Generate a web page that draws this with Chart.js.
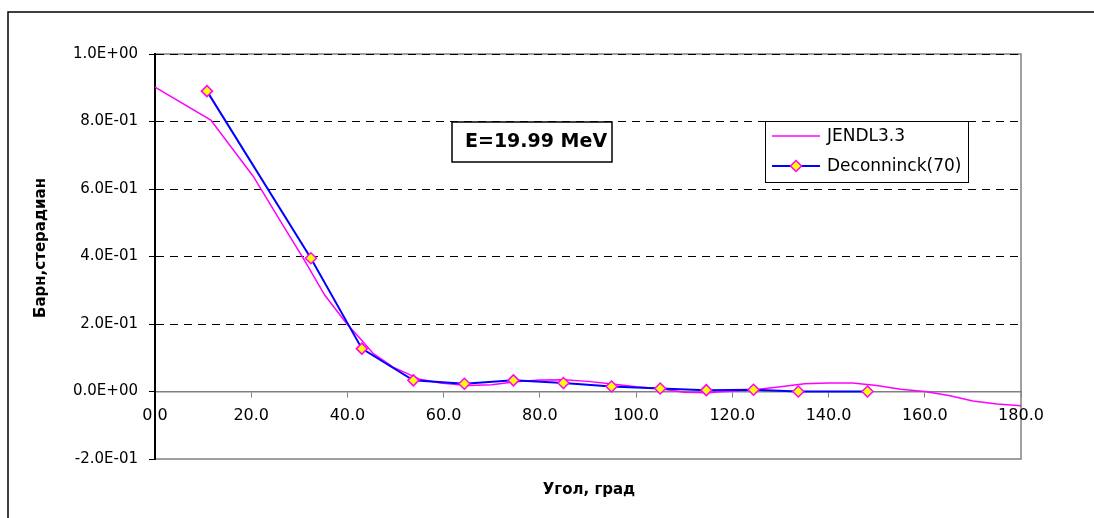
<!DOCTYPE html>
<html>
<head>
<meta charset="utf-8">
<script src="https://cdn.jsdelivr.net/npm/chart.js@4.4.0/dist/chart.umd.min.js"></script>
<style>
  html, body { margin: 0; padding: 0; background: #fff; }
  #wrap { width: 1094px; height: 518px; position: relative; }
</style>
</head>
<body>
<div id="wrap"><canvas id="chart"></canvas></div>
<script>
// JENDL3.3 evaluation (angle in degrees, barn/sr)
const jendlAngle = [0, 11.6, 20.4, 26.7, 30.8, 35.3, 39.9, 43.0, 45.4, 49.5, 55.1, 59.3, 65, 70, 75, 80, 85, 90, 95, 100, 105, 110, 115, 117.5, 120, 125, 130, 135, 140, 145, 150, 155, 160, 165, 170, 175, 180];
const jendlValue = [0.902, 0.804, 0.638, 0.49, 0.395, 0.285, 0.20, 0.151, 0.112, 0.072, 0.036, 0.025, 0.018, 0.020, 0.029, 0.034, 0.035, 0.030, 0.022, 0.014, 0.008, -0.002, -0.004, -0.001, 0.001, 0.006, 0.014, 0.023, 0.025, 0.025, 0.018, 0.007, 0.0, -0.012, -0.028, -0.037, -0.042];

// Deconninck(70) measurement
const decAngle = [10.8, 32.4, 43.0, 53.7, 64.3, 74.5, 84.9, 94.9, 105.0, 114.6, 124.4, 133.7, 148.1];
const decValue = [0.890, 0.395, 0.127, 0.033, 0.023, 0.033, 0.025, 0.015, 0.009, 0.004, 0.005, 0.0, 0.0];

// axes
const xMin = 0, xMax = 180, xStep = 20;
const yMin = -0.2, yMax = 1.0, yStep = 0.2;

const energyLabel = 'E=19.99 MeV';
const xTitle = 'Угол, град';
const yTitle = 'Барн,стерадиан';

function toPoints(xs, ys) {
    return xs.map((x, i) => ({ x: x, y: ys[i] }));
}

// Excel style 0.0E+00
function sci(v) {
    if (Math.abs(v) < 1e-9) return '0.0E+00';
    let e = Math.floor(Math.log10(Math.abs(v)) + 1e-9);
    let m = v / Math.pow(10, e);
    let s = e < 0 ? '-' : '+';
    let ea = Math.abs(e);
    return m.toFixed(1) + 'E' + s + (ea < 10 ? '0' + ea : ea);
}

function diamond(ctx, x, y, r) {
    ctx.beginPath();
    ctx.moveTo(x, y - r);
    ctx.lineTo(x + r, y);
    ctx.lineTo(x, y + r);
    ctx.lineTo(x - r, y);
    ctx.closePath();
    ctx.fill();
    ctx.stroke();
}

const decorPlugin = {
    id: 'decor',
    beforeDraw(chart) {
        const ctx = chart.ctx;
        const a = chart.chartArea;
        ctx.save();
        // outer frame
        ctx.strokeStyle = '#000';
        ctx.lineWidth = 1.5;
        ctx.beginPath();
        ctx.moveTo(8, 518);
        ctx.lineTo(8, 12);
        ctx.lineTo(1094, 12);
        ctx.stroke();
        // plot area frame
        ctx.strokeStyle = '#808080';
        ctx.lineWidth = 1.5;
        ctx.strokeRect(a.left, a.top, a.right - a.left, a.bottom - a.top);
        ctx.restore();
    },
    afterDraw(chart) {
        const ctx = chart.ctx;
        ctx.save();
        ctx.fillStyle = '#000';

        // axis titles
        ctx.font = 'bold 15px "DejaVu Sans"';
        ctx.textAlign = 'center';
        ctx.textBaseline = 'middle';
        ctx.fillText(xTitle, 589, 490);
        ctx.save();
        ctx.translate(41, 248);
        ctx.rotate(-Math.PI / 2);
        ctx.fillText(yTitle, 0, 0);
        ctx.restore();

        // energy box
        ctx.fillStyle = '#fff';
        ctx.fillRect(452, 122, 160, 40);
        ctx.strokeStyle = '#000';
        ctx.lineWidth = 1.5;
        ctx.strokeRect(452, 122, 160, 40);
        ctx.fillStyle = '#000';
        ctx.font = 'bold 19px "DejaVu Sans"';
        ctx.textAlign = 'left';
        ctx.fillText(energyLabel, 465, 142);

        // legend
        ctx.fillStyle = '#fff';
        ctx.fillRect(765, 121, 203, 61);
        ctx.strokeStyle = '#000';
        ctx.lineWidth = 1;
        ctx.strokeRect(765.5, 121.5, 203, 61);
        ctx.font = '17px "DejaVu Sans"';
        chart.data.datasets.forEach((ds, i) => {
            const y = 136 + i * 30;
            ctx.strokeStyle = ds.borderColor;
            ctx.lineWidth = ds.borderWidth;
            ctx.beginPath();
            ctx.moveTo(772, y);
            ctx.lineTo(820, y);
            ctx.stroke();
            if (ds.pointRadius > 0) {
                ctx.fillStyle = ds.pointBackgroundColor;
                ctx.strokeStyle = ds.pointBorderColor;
                ctx.lineWidth = ds.pointBorderWidth;
                diamond(ctx, 796, y, ds.pointRadius);
            }
            ctx.fillStyle = '#000';
            ctx.fillText(ds.label, 827, y + 1);
        });
        ctx.restore();
    }
};

new Chart(document.getElementById('chart'), {
    type: 'line',
    data: {
        datasets: [{
            label: 'JENDL3.3',
            data: toPoints(jendlAngle, jendlValue),
            borderColor: '#FF00FF',
            borderWidth: 1.5,
            pointRadius: 0,
            tension: 0,
            order: 1
        }, {
            label: 'Deconninck(70)',
            data: toPoints(decAngle, decValue),
            borderColor: '#0000FF',
            borderWidth: 2,
            pointStyle: 'rectRot',
            pointRadius: 5.5,
            pointBackgroundColor: '#FFFF00',
            pointBorderColor: '#FF00FF',
            pointBorderWidth: 1.5,
            tension: 0,
            order: 0
        }]
    },
    options: {
        responsive: true,
        maintainAspectRatio: false,
        animation: false,
        layout: {
            padding: { left: 0, top: 54, right: 73, bottom: 59 }
        },
        plugins: {
            legend: { display: false },
            tooltip: { enabled: false }
        },
        scales: {
            x: {
                type: 'linear',
                position: { y: 0 },
                min: xMin,
                max: xMax,
                ticks: {
                    stepSize: xStep,
                    color: '#000',
                    font: { family: 'DejaVu Sans', size: 16 },
                    padding: 10,
                    maxRotation: 0,
                    callback: function(value) {
                        return value.toFixed(1);
                    }
                },
                grid: {
                    drawOnChartArea: false,
                    drawTicks: true,
                    tickLength: 5,
                    tickColor: '#808080'
                },
                border: { color: '#808080', width: 1.5 }
            },
            y: {
                min: yMin,
                max: yMax,
                afterFit: function(scale) {
                    scale.width = 155;
                },
                ticks: {
                    stepSize: yStep,
                    color: '#000',
                    font: { family: 'DejaVu Sans', size: 15 },
                    padding: 11,
                    callback: function(value) {
                        return sci(value);
                    }
                },
                grid: {
                    color: function(c) {
                        const v = c.tick ? c.tick.value : 0;
                        if (Math.abs(v) < 1e-6 || Math.abs(v - yMin) < 1e-6) return 'rgba(0,0,0,0)';
                        return '#000';
                    },
                    lineWidth: 1,
                    tickLength: 6,
                    tickColor: '#000'
                },
                border: { color: '#000', width: 2, dash: [8, 6] }
            }
        }
    },
    plugins: [decorPlugin]
});
</script>
</body>
</html>
